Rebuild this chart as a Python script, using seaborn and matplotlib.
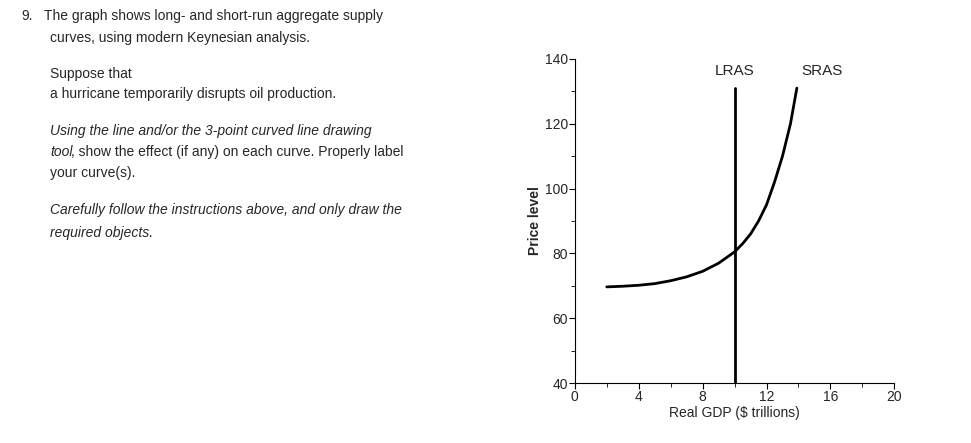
import matplotlib
matplotlib.use("Agg")
import matplotlib.pyplot as plt
import seaborn as sns
import pandas as pd
from matplotlib.ticker import MultipleLocator

sras_x = [2, 3, 4, 5, 6, 7, 8, 9, 10, 10.5, 11, 11.5, 12, 12.5, 13, 13.5, 13.9]
sras_y = [69.7, 69.9, 70.2, 70.7, 71.6, 72.8, 74.5, 77, 80.5, 83, 86, 90, 95, 102, 110, 120, 131]
lras_x = [10, 10]
lras_y = [40, 131]

sns.set_style("ticks")
plt.rcParams['font.family'] = ['Liberation Sans', 'DejaVu Sans']
fig = plt.figure(figsize=(9.71, 4.43), dpi=100)
ax = fig.add_axes([0.592, 0.135, 0.329, 0.732])

sns.lineplot(x=sras_x, y=sras_y, ax=ax, color='black', lw=2, estimator=None, sort=False)
sns.lineplot(x=lras_x, y=lras_y, ax=ax, color='black', lw=2, estimator=None, sort=False)
ax.set_xlim(0, 20); ax.set_ylim(40, 140)
ax.xaxis.set_major_locator(MultipleLocator(4)); ax.xaxis.set_minor_locator(MultipleLocator(2))
ax.yaxis.set_major_locator(MultipleLocator(20)); ax.yaxis.set_minor_locator(MultipleLocator(10))
ax.tick_params(labelsize=10, length=4, pad=1, color='black')
ax.tick_params(which='minor', length=3, color='black')
for s in ax.spines.values():
    s.set_color('black')
sns.despine(ax=ax)
ax.set_xlabel("Real GDP ($ trillions)", fontsize=10, labelpad=1)
ax.set_ylabel("Price level", fontsize=10, fontweight='bold', labelpad=2)
ax.text(10, 134, "LRAS", ha='center', va='bottom', fontsize=11)
ax.text(15.5, 134, "SRAS", ha='center', va='bottom', fontsize=11)

fig.text(0.022, 0.955, "9.", fontsize=10)
fig.text(0.045, 0.955, "The graph shows long- and short-run aggregate supply", fontsize=10)
fig.text(0.052, 0.905, "curves, using modern Keynesian analysis.", fontsize=10)
fig.text(0.052, 0.825, "Suppose that", fontsize=10)
fig.text(0.052, 0.778, "a hurricane temporarily disrupts oil production.", fontsize=10)
fig.text(0.052, 0.695, "Using the line and/or the 3-point curved line drawing", fontsize=10, style='italic')
fig.text(0.052, 0.647, "tool", fontsize=10, style='italic')
fig.text(0.0735, 0.647, ", show the effect (if any) on each curve. Properly label", fontsize=10)
fig.text(0.052, 0.600, "your curve(s).", fontsize=10)
fig.text(0.052, 0.518, "Carefully follow the instructions above, and only draw the", fontsize=10, style='italic')
fig.text(0.052, 0.465, "required objects.", fontsize=10, style='italic')

fig.savefig("out.png", dpi=100)
